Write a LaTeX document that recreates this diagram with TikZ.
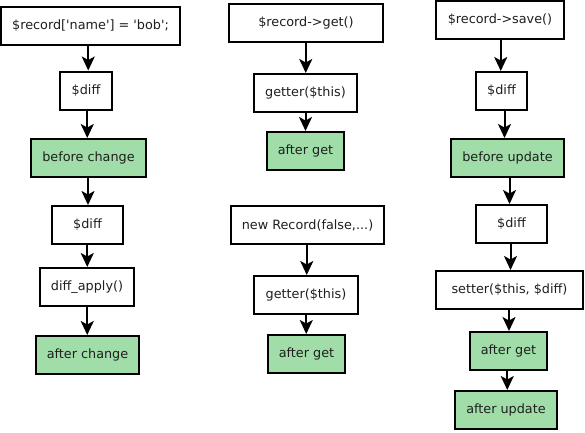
\documentclass[tikz,border=0pt]{standalone}
\usepackage{fontspec}
\newfontfamily\dvs{DejaVu Sans}
\usetikzlibrary{arrows.meta,calc}
\definecolor{boxgreen}{HTML}{A0DDA8}
\tikzset{
  box/.style={draw=black, line width=2pt, fill=white, inner sep=0pt, minimum height=38pt, font=\dvs\fontsize{12.8}{15}\selectfont, text=black!88},
  gbox/.style={box, fill=boxgreen},
  conn/.style={line width=2pt, -{Stealth[length=14pt,width=13pt,inset=3.5pt]}}
}
\newcommand{\vconn}[3]{%
  \coordinate (#3) at ($(#1)!.5!(#2)$);
  \draw[conn] (#1.south -| #3) -- (#2.north -| #3);}
\begin{document}
\begin{tikzpicture}[x=1pt,y=-1pt]
\useasboundingbox (0,0) rectangle (585,432);
% column 1
\node[box, minimum width=179pt] (a1) at (90.5,25.5) {\$record['name'] = 'bob';};
\node[box, minimum width=52pt] (a2) at (86,90.5) {\$diff};
\node[gbox, minimum width=115pt] (a3) at (88.5,158) {before change};
\node[box, minimum width=71pt] (a4) at (87.5,225) {\$diff};
\node[box, minimum width=94pt] (a5) at (87,287) {diff\_apply()};
\node[gbox, minimum width=103pt] (a6) at (87.5,355) {after change};
% column 2
\node[box, minimum width=154pt] (b1) at (306,22.5) {\$record->get()};
\node[box, minimum width=103pt] (b2) at (305.5,93) {getter(\$this)};
\node[gbox, minimum width=77pt] (b3) at (305.5,151) {after get};
\node[box, minimum width=153pt] (b4) at (307.5,225) {new Record(false,...)};
\node[box, minimum width=104pt] (b5) at (306,295) {getter(\$this)};
\node[gbox, minimum width=77pt] (b6) at (306.5,354) {after get};
% column 3
\node[box, minimum width=128pt] (c1) at (500,20) {\$record->save()};
\node[box, minimum width=51pt] (c2) at (501.5,91) {\$diff};
\node[gbox, minimum width=113pt] (c3) at (507.5,158) {before update};
\node[box, minimum width=71pt] (c4) at (511.5,224) {\$diff};
\node[box, minimum width=147pt] (c5) at (509.5,290) {setter(\$this, \$diff)};
\node[gbox, minimum width=77pt] (c6) at (508.5,351) {after get};
\node[gbox, minimum width=102pt] (c7) at (506,410) {after update};
% connectors
\vconn{a1}{a2}{m1}
\vconn{a2}{a3}{m2}
\vconn{a3}{a4}{m3}
\vconn{a4}{a5}{m4}
\vconn{a5}{a6}{m5}
\vconn{b1}{b2}{n1}
\vconn{b2}{b3}{n2}
\vconn{b4}{b5}{n3}
\vconn{b5}{b6}{n4}
\vconn{c1}{c2}{p1}
\vconn{c2}{c3}{p2}
\vconn{c3}{c4}{p3}
\vconn{c4}{c5}{p4}
\vconn{c5}{c6}{p5}
\vconn{c6}{c7}{p6}
\end{tikzpicture}
\end{document}
